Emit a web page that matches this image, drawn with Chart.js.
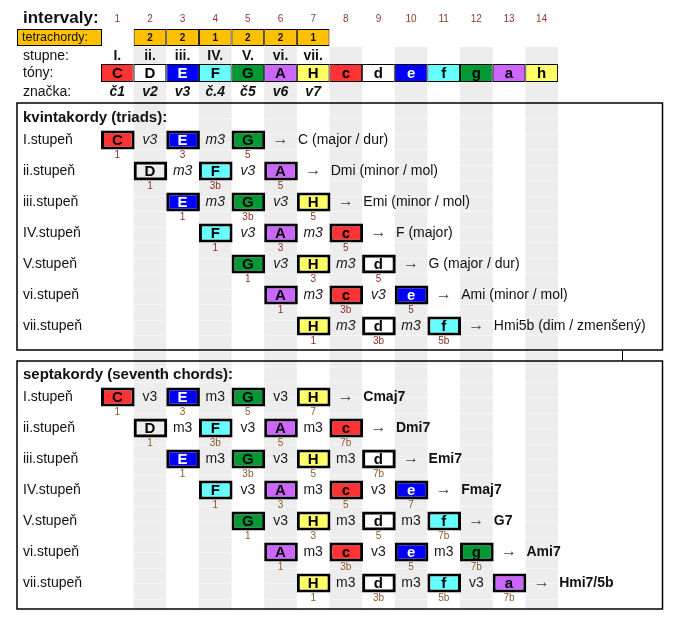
<!DOCTYPE html>
<html><head><meta charset="utf-8">
<script src="https://cdn.jsdelivr.net/npm/chart.js@4.4.1/dist/chart.umd.min.js"></script>
<style>html,body{margin:0;padding:0;background:#fff}#wrap{width:681px;height:627px;position:relative}</style>
</head><body><div id="wrap"><canvas id="c" width="681" height="627"></canvas></div>
<script>
// ---------- DATA ----------
const intervalNumbers = ['1','2','3','4','5','6','7','8','9','10','11','12','13','14'];
const tetrachords = ['2','2','1','2','2','1'];          // columns 2..7
const degreeNames = ['I.','ii.','iii.','IV.','V.','vi.','vii.'];
const tones = ['C','D','E','F','G','A','H','c','d','e','f','g','a','h'];
const marks = ['č1','v2','v3','č.4','č5','v6','v7'];
const rowLabels = ['I.stupeň','ii.stupeň','iii.stupeň','IV.stupeň','V.stupeň','vi.stupeň','vii.stupeň'];

const triadNotes = [['C','E','G'],['D','F','A'],['E','G','H'],['F','A','c'],['G','H','d'],['A','c','e'],['H','d','f']];
const triadIntervals = [['v3','m3'],['m3','v3'],['m3','v3'],['v3','m3'],['v3','m3'],['m3','v3'],['m3','m3']];
const triadFunctions = [['1','3','5'],['1','3b','5'],['1','3b','5'],['1','3','5'],['1','3','5'],['1','3b','5'],['1','3b','5b']];
const triadNames = ['C (major / dur)','Dmi (minor / mol)','Emi (minor / mol)','F (major)','G (major / dur)','Ami (minor / mol)','Hmi5b (dim / zmenšený)'];

const seventhNotes = [['C','E','G','H'],['D','F','A','c'],['E','G','H','d'],['F','A','c','e'],['G','H','d','f'],['A','c','e','g'],['H','d','f','a']];
const seventhIntervals = [['v3','m3','v3'],['m3','v3','m3'],['m3','v3','m3'],['v3','m3','v3'],['v3','m3','m3'],['m3','v3','m3'],['m3','m3','v3']];
const seventhFunctions = [['1','3','5','7'],['1','3b','5','7b'],['1','3b','5','7b'],['1','3','5','7'],['1','3','5','7b'],['1','3b','5','7b'],['1','3b','5b','7b']];
const seventhNames = ['Cmaj7','Dmi7','Emi7','Fmaj7','G7','Ami7','Hmi7/5b'];

// ---------- STYLE / LAYOUT ----------
const W = 681, H = 627;
const GRID_LEFT = 101, COL_W = 32.64;
const LY = {intervals:18, tetra:37.5, degrees:56.5, tones:73, marks:92.5,
  title1:118, triad0:140, title2:375, seventh0:397, step:31,
  stripeTop:47, stripeBottom:609, box1:[103,350], box2:[361,609], frameL:17, frameR:662.5};
const FONT = '"Liberation Sans", Arial, sans-serif';
const toneFill = {c:'#ff3333', d:'#ffffff', e:'#0000ff', f:'#66ffff', g:'#009933', a:'#cc66ff', h:'#ffff66'};
const toneText = {c:'#000', d:'#000', e:'#fff', f:'#000', g:'#000', a:'#000', h:'#000'};
const col = n => tones.indexOf(n) + 1;
const chordFill = n => n.toLowerCase() === 'd' ? 'rgba(0,0,0,0)' : toneFill[n.toLowerCase()];

function chordBars(notesArr, y0) {
  const data = [], bg = [];
  notesArr.forEach((notes, r) => notes.forEach(n => {
    const c = col(n);
    data.push({x:[c - 0.5, c + 0.53], y: y0 + r * LY.step});
    bg.push(chordFill(n));
  }));
  return {data, bg};
}
const tri = chordBars(triadNotes, LY.triad0);
const sev = chordBars(seventhNotes, LY.seventh0);

const common = {type:'bar', borderSkipped:false, inflateAmount:0, borderColor:'#000', grouped:false};
const datasets = [
  {...common, data: tetrachords.map((t,i)=>({x:[i+1.5, i+2.5], y:LY.tetra})), backgroundColor:'#ffc000', borderWidth:1, barThickness:17},
  {...common, data: tones.map((t,i)=>({x:[i+0.5, i+1.5], y:LY.tones})), backgroundColor: tones.map(t=>toneFill[t.toLowerCase()]), borderWidth:1, barThickness:18},
  {...common, data: tri.data, backgroundColor: tri.bg, borderWidth:3, barThickness:19},
  {...common, data: sev.data, backgroundColor: sev.bg, borderWidth:3, barThickness:19},
];

function txt(ctx, s, x, y, font, color, align) {
  ctx.font = font; ctx.fillStyle = color; ctx.textAlign = align || 'center'; ctx.textBaseline = 'middle';
  ctx.fillText(s, x, y);
}

const sheet = {
  id:'sheet',
  beforeDatasetsDraw(chart) {
    const {ctx, scales:{x, y}} = chart;
    ctx.save();
    ctx.fillStyle = '#ededed';
    const t = y.getPixelForValue(LY.stripeTop), b = y.getPixelForValue(LY.stripeBottom);
    for (let c = 2; c <= 14; c += 2) {
      const l = x.getPixelForValue(c - 0.5), r = x.getPixelForValue(c + 0.5);
      ctx.fillRect(l, t, r - l, b - t);
    }
    ctx.strokeStyle = '#f5f5f5'; ctx.lineWidth = 1;
    for (let yy = 118; yy < LY.stripeBottom; yy += 15.5) {
      for (let c = 2; c <= 14; c += 2) {
        const l = x.getPixelForValue(c - 0.5), r = x.getPixelForValue(c + 0.5);
        ctx.beginPath(); ctx.moveTo(l, Math.round(yy)+0.5); ctx.lineTo(r, Math.round(yy)+0.5); ctx.stroke();
      }
    }
    // tetrachordy label box
    ctx.fillStyle = '#ffc000'; ctx.fillRect(17, 29, 84.5, 17);
    ctx.strokeStyle = '#000'; ctx.lineWidth = 1; ctx.strokeRect(17.5, 29.5, 84, 16);
    // frames
    ctx.lineWidth = 1.5; ctx.strokeStyle = '#000';
    [LY.box1, LY.box2].forEach(([t0,b0]) => ctx.strokeRect(LY.frameL, y.getPixelForValue(t0), LY.frameR - LY.frameL, y.getPixelForValue(b0) - y.getPixelForValue(t0)));
    ctx.lineWidth = 1;
    ctx.beginPath(); ctx.moveTo(622.5, y.getPixelForValue(350)); ctx.lineTo(622.5, y.getPixelForValue(361)); ctx.stroke();
    ctx.restore();
  },
  afterDatasetsDraw(chart) {
    const {ctx, scales:{x, y}} = chart;
    const X = c => x.getPixelForValue(c), Yp = v => y.getPixelForValue(v);
    ctx.save();
    const dark = '#111';
    // header
    txt(ctx, 'intervaly:', 23, Yp(LY.intervals), 'bold 17px ' + FONT, dark, 'left');
    intervalNumbers.forEach((n,i) => txt(ctx, n, X(i+1), Yp(LY.intervals)+1, '10px ' + FONT, '#8f3a2c'));
    txt(ctx, 'tetrachordy:', 22, Yp(LY.tetra), '12.5px ' + FONT, dark, 'left');
    tetrachords.forEach((t,i) => txt(ctx, t, X(i+2), Yp(LY.tetra)+0.5, 'bold 10px ' + FONT, dark));
    txt(ctx, 'stupne:', 23, Yp(LY.degrees), '14px ' + FONT, dark, 'left');
    degreeNames.forEach((d,i) => txt(ctx, d, X(i+1), Yp(LY.degrees), 'bold 14px ' + FONT, dark));
    txt(ctx, 'tóny:', 23, Yp(LY.tones), '14px ' + FONT, dark, 'left');
    tones.forEach((t,i) => txt(ctx, t, X(i+1), Yp(LY.tones)+0.5, 'bold 15px ' + FONT, toneText[t.toLowerCase()]));
    txt(ctx, 'značka:', 23, Yp(LY.marks), '14px ' + FONT, dark, 'left');
    marks.forEach((m,i) => txt(ctx, m, X(i+1), Yp(LY.marks), 'italic bold 14px ' + FONT, dark));

    function section(title, yTitle, y0, notesArr, ints, funcs, names, italic, boldName, fnColor) {
      txt(ctx, title, 23, Yp(yTitle), 'bold 15px ' + FONT, dark, 'left');
      notesArr.forEach((notes, r) => {
        const yy = Yp(y0 + r * LY.step);
        txt(ctx, rowLabels[r], 23, yy + 0.5, '14px ' + FONT, dark, 'left');
        notes.forEach((n, k) => {
          const c = col(n);
          txt(ctx, n, X(c), yy + 1, 'bold 15px ' + FONT, toneText[n.toLowerCase()]);
          txt(ctx, funcs[r][k], X(c), yy + 15, '10px ' + FONT, fnColor);
          if (k < ints[r].length) txt(ctx, ints[r][k], X(c + 1), yy + 0.5, (italic ? 'italic ' : '') + '14px ' + FONT, '#1a1a1a');
        });
        const last = col(notes[notes.length - 1]) + 1;
        txt(ctx, '→', X(last), yy, '16px ' + FONT, '#444');
        txt(ctx, names[r], X(last) + 17.5, yy + 0.5, (boldName ? 'bold ' : '') + '14px ' + FONT, dark, 'left');
      });
    }
    section('kvintakordy (triads):', LY.title1, LY.triad0, triadNotes, triadIntervals, triadFunctions, triadNames, true, false, '#8b2f22');
    section('septakordy (seventh chords):', LY.title2, LY.seventh0, seventhNotes, seventhIntervals, seventhFunctions, seventhNames, false, true, '#8b5a2b');
    ctx.restore();
  }
};

new Chart(document.getElementById('c'), {
  type:'bar',
  data:{datasets},
  options:{
    indexAxis:'y', responsive:false, animation:false, events:[],
    layout:{padding:0},
    plugins:{legend:{display:false}, tooltip:{enabled:false}},
    scales:{
      x:{type:'linear', display:false, offset:false, grace:0, min: 0.5 - GRID_LEFT / COL_W, max: 0.5 + (W - GRID_LEFT) / COL_W},
      y:{type:'linear', display:false, offset:false, grace:0, reverse:true, min:0, max:H}
    }
  },
  plugins:[sheet]
});
</script></body></html>
